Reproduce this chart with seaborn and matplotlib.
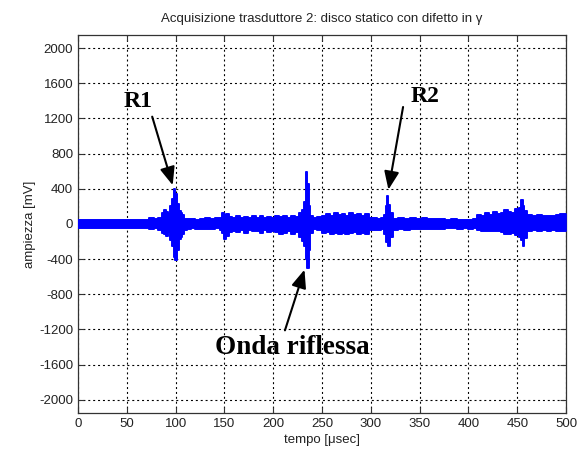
import numpy as np
import pandas as pd
import matplotlib
matplotlib.use("Agg")
import matplotlib.pyplot as plt
import seaborn as sns

tempo = [0, 10, 20, 30, 40, 50, 60, 70, 73, 78, 82, 86, 88, 90, 92, 94, 96, 98, 99.5, 101,
         103, 105, 107, 109, 112, 116, 120, 125, 130, 135, 140, 145, 148, 150, 152, 155, 158,
         162, 166, 170, 174, 178, 182, 186, 190, 194, 198, 202, 206, 210, 214, 218, 222, 226,
         229, 232, 233.5, 235, 236.5, 238, 241, 245, 250, 254, 258, 262, 266, 270, 274, 278,
         282, 286, 290, 294, 298, 302, 306, 310, 313, 315, 316.5, 318, 320, 323, 328, 334,
         340, 346, 352, 358, 364, 370, 376, 382, 388, 394, 400, 405, 409, 413, 417, 421, 425,
         429, 433, 436, 440, 444, 448, 452, 454, 455.5, 457, 460, 465, 470, 475, 480, 485,
         490, 494, 497, 500]
ampiezza_max = [42, 40, 44, 41, 43, 40, 45, 42, 65, 55, 70, 120, 160, 140, 110, 200, 280, 400,
                340, 230, 150, 120, 100, 60, 55, 60, 50, 60, 67, 55, 62, 70, 130, 100, 110, 80,
                70, 85, 65, 80, 70, 90, 65, 85, 70, 80, 65, 85, 75, 90, 70, 95, 80, 120, 160,
                250, 590, 450, 200, 90, 67, 80, 85, 110, 95, 123, 100, 115, 90, 120, 105, 118,
                95, 110, 65, 70, 60, 70, 100, 200, 316, 220, 120, 60, 65, 55, 62, 58, 65, 55,
                60, 52, 48, 52, 45, 50, 48, 55, 104, 90, 120, 105, 141, 110, 130, 160, 140, 120,
                170, 180, 272, 200, 150, 100, 90, 104, 85, 95, 88, 104, 110, 115, 110]
ampiezza_min = [-45, -43, -46, -44, -45, -43, -46, -44, -60, -50, -65, -100, -120, -135, -90,
                -180, -250, -380, -410, -300, -175, -150, -110, -70, -55, -50, -55, -55, -56,
                -60, -50, -65, -100, -167, -140, -90, -75, -95, -70, -100, -65, -85, -75, -100,
                -70, -95, -80, -90, -110, -100, -85, -120, -90, -150, -193, -250, -400, -500,
                -300, -100, -63, -65, -100, -90, -120, -105, -110, -100, -115, -105, -95, -120,
                -100, -115, -70, -65, -70, -62, -120, -200, -180, -256, -150, -70, -60, -65,
                -55, -62, -55, -60, -58, -55, -50, -45, -55, -48, -52, -50, -70, -82, -75, -80,
                -82, -75, -90, -110, -120, -100, -130, -150, -180, -256, -160, -82, -70, -75,
                -65, -80, -70, -82, -75, -80, -78]

x_ticks = [0, 50, 100, 150, 200, 250, 300, 350, 400, 450, 500]
y_ticks = [-2000, -1600, -1200, -800, -400, 0, 400, 800, 1200, 1600, 2000]

annotazioni = ["R1", "R2", "Onda riflessa"]

sns.set_style("ticks")
plt.rcParams['font.family'] = ['Liberation Sans', 'DejaVu Sans']

df = pd.DataFrame({"tempo": tempo, "max": ampiezza_max, "min": ampiezza_min})

fig = plt.figure(figsize=(5.83, 4.59), dpi=100)
ax = fig.add_axes([0.1338, 0.1002, 0.8372, 0.8238])

blue = "#0000ff"
ax.fill_between(df["tempo"], df["min"], df["max"], step="post", color=blue,
                edgecolor=blue, linewidth=1.2, zorder=3)
sns.lineplot(data=df, x="tempo", y="max", drawstyle="steps-post", color=blue,
             linewidth=1.2, ax=ax, zorder=3)
sns.lineplot(data=df, x="tempo", y="min", drawstyle="steps-post", color=blue,
             linewidth=1.2, ax=ax, zorder=3)

ax.set_xlim(0, 500)
ax.set_ylim(-2150, 2150)
ax.set_xticks(x_ticks)
ax.set_yticks(y_ticks)
ax.set_xticklabels([str(v) for v in x_ticks])
ax.set_yticklabels([str(v) for v in y_ticks])
ax.grid(True, color="black", linestyle=(0, (1.8, 2.6)), linewidth=0.8)
ax.tick_params(direction="in", top=True, right=True, length=4, labelsize=9.5,
               colors="#333333", labelcolor="#222222")
for s in ax.spines.values():
    s.set_color("#333333")
    s.set_linewidth(0.9)

ax.set_xlabel("tempo [\u03bcsec]", fontsize=9.5, color="#222222", labelpad=3)
ax.set_ylabel("ampiezza [mV]", fontsize=9.5, color="#222222", labelpad=2)
ax.set_title("Acquisizione trasduttore 2: disco statico con difetto in \u03b3",
             fontsize=9.5, color="#222222", pad=9)

arrow = dict(arrowstyle="-|>,head_length=1.1,head_width=0.45", color="black",
             linewidth=1.5, shrinkA=0, shrinkB=0)
serif = dict(family="Liberation Serif", fontweight="bold", color="black")
ax.text(62, 1390, annotazioni[0], ha="center", va="center", fontsize=17, **serif)
ax.annotate("", xy=(97, 440), xytext=(76, 1220), arrowprops=arrow)
ax.text(356, 1450, annotazioni[1], ha="center", va="center", fontsize=17, **serif)
ax.annotate("", xy=(318, 390), xytext=(333, 1330), arrowprops=arrow)
ax.text(220, -1400, annotazioni[2], ha="center", va="center", fontsize=19.5, **serif)
ax.annotate("", xy=(232, -520), xytext=(212, -1210), arrowprops=arrow)

fig.savefig("out.png", dpi=100)
